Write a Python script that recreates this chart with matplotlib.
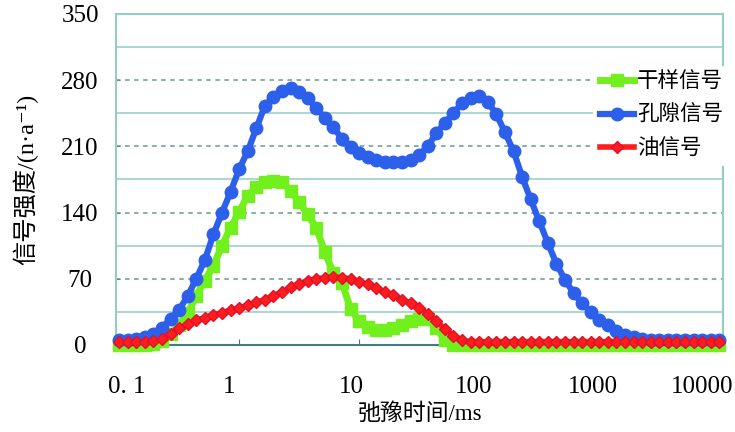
import numpy as np
import matplotlib.pyplot as plt
from matplotlib.transforms import ScaledTranslation

# T2 bins: 14 per decade from 0.1 ms to 10000 ms
t2 = 10 ** (np.arange(71) / 14 - 1)

dry_signal = [0, 0, 0, 0, 1, 4, 12, 21, 34, 52,
              68, 84, 105, 124, 141, 158, 167, 172, 173, 172,
              163, 151, 138, 124, 98, 76, 66, 38, 25, 19,
              16, 16, 18, 21, 25, 28, 28, 18, 5, 0,
              0, 0, 0, 0, 0, 0, 0, 0, 0, 0,
              0, 0, 0, 0, 0, 0, 0, 0, 0, 0,
              0, 0, 0, 0, 0, 0, 0, 0, 0, 0,
              0]
pore_signal = [5, 5, 6, 8, 12, 18, 28, 37, 52, 70,
               90, 117, 140, 162, 186, 205, 229, 253, 262, 269,
               272, 268, 261, 251, 240, 230, 218, 209, 203, 199,
               196, 194, 193, 194, 196, 201, 210, 224, 235, 245,
               256, 261, 263, 257, 244, 225, 205, 178, 154, 131,
               108, 86, 69, 55, 44, 35, 26, 21, 15, 11,
               8, 6, 5, 5, 5, 5, 5, 5, 5, 5,
               5]
oil_signal = [3, 3, 3, 3, 4, 6, 12, 18, 22, 26,
              29, 32, 34, 37, 39, 42, 45, 48, 52, 56,
              61, 65, 68, 70, 71, 72, 71, 70, 67, 64,
              60, 56, 53, 48, 44, 39, 33, 25, 17, 10,
              5, 3, 3, 3, 3, 3, 3, 3, 3, 3,
              3, 3, 3, 3, 3, 3, 3, 3, 3, 3,
              3, 3, 3, 3, 3, 3, 3, 3, 3, 3,
              3]

labels = ["干样信号", "孔隙信号", "油信号"]
yticks = [0, 70, 140, 210, 280, 350]
xticks = [0.1, 1, 10, 100, 1000, 10000]
xticklabels = ["0. 1", "1", "10", "100", "1000", "10000"]

plt.rcParams["font.family"] = ["Liberation Serif", "Noto Sans CJK SC", "DejaVu Sans"]

fig = plt.figure(figsize=(7.35, 4.32), dpi=100)
ax = fig.add_axes([0.158, 0.2014, 0.826, 0.7662])

ax.set_xscale("log")
ax.set_xlim(0.0944, 10790)
ax.set_ylim(0, 350)

# grid: solid at odd multiples of 35, dashed at labelled values
for v in [35, 105, 175, 245, 315]:
    ax.axhline(v, color="#a3d4cd", lw=1.3, zorder=1)
for v in [70, 140, 210, 280]:
    ax.axhline(v, color="#7ea8a3", lw=1.3, ls=(0, (2.5, 2.5)), zorder=1)

ax.plot(t2, dry_signal, color="#72f01e", lw=5, marker="s", ms=8.5,
        mec="#72f01e", label=labels[0], clip_on=False, zorder=3)
ax.plot(t2, pore_signal, color="#2d60ea", lw=4.5, marker="o", ms=9,
        mec="#2d60ea", label=labels[1], clip_on=False, zorder=4)
ax.plot(t2, oil_signal, color="#ff1c1c", lw=4, marker="D", ms=6.5,
        mec="#e0102a", label=labels[2], clip_on=False, zorder=5)

for side in ["left", "right", "top"]:
    ax.spines[side].set_color("#95cdc6")
    ax.spines[side].set_linewidth(1.5)
ax.spines["bottom"].set_color("#3f7c84")
ax.spines["bottom"].set_linewidth(1.5)

ax.set_yticks(yticks)
ax.set_xticks(xticks)
ax.set_xticklabels(xticklabels)
ax.minorticks_off()
ax.tick_params(axis="y", direction="in", length=3, color="#5f8f8a",
               labelsize=18, pad=26)
ax.tick_params(axis="x", direction="in", length=4, color="#3f7c84",
               labelsize=18, pad=22)
for lab in ax.get_yticklabels():
    lab.set_horizontalalignment("center")

# tick labels sit a little off their ticks in the original
x_offsets = [8, -10, -8, -6, -6, -17]
for lab, dx in zip(ax.get_xticklabels(), x_offsets):
    lab.set_transform(lab.get_transform() + ScaledTranslation(dx / 100, 0, fig.dpi_scale_trans))

ax.set_xlabel("弛豫时间/ms", fontsize=16.5)
ax.xaxis.set_label_coords(0.5, -0.175)
ax.set_ylabel("信号强度/(n·a⁻¹)", fontsize=17.5)
ax.yaxis.set_label_coords(-0.128, 0.5)

leg = ax.legend(loc="upper left", bbox_to_anchor=(0.768, 0.875), fontsize=15.5,
                frameon=True, fancybox=False, framealpha=1, edgecolor="none",
                facecolor="white", handlelength=1.6, handletextpad=0.15,
                labelspacing=0.62, borderpad=0.3)
leg.set_zorder(10)

fig.savefig("out.png", dpi=100)
